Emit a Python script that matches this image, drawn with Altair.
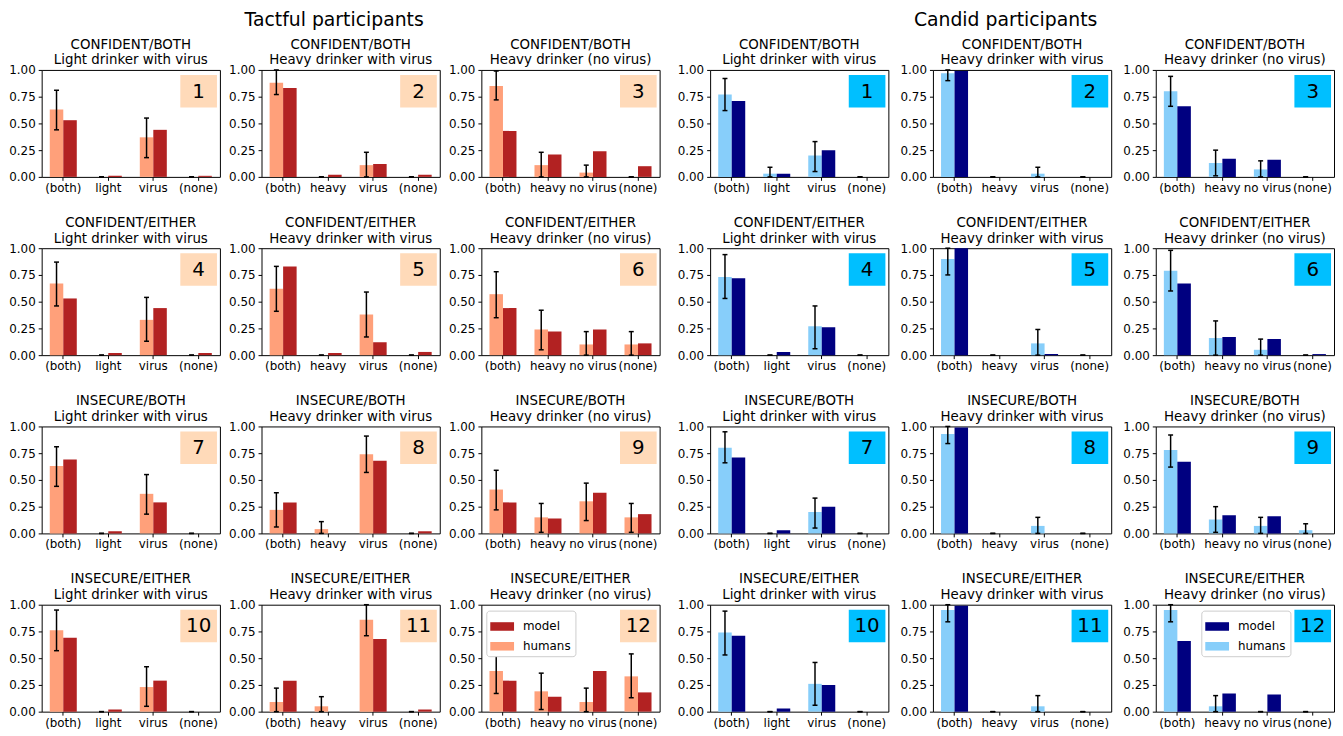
import altair as alt
import pandas as pd

FONT = "DejaVu Sans"

GROUP_TITLES = ["Tactful participants", "Candid participants"]
ROW_TITLES = ["CONFIDENT/BOTH", "CONFIDENT/EITHER", "INSECURE/BOTH", "INSECURE/EITHER"]
COL_TITLES = ["Light drinker with virus", "Heavy drinker with virus", "Heavy drinker (no virus)"]
COL_CATS = [
    ["(both)", "light", "virus", "(none)"],
    ["(both)", "heavy", "virus", "(none)"],
    ["(both)", "heavy", "no virus", "(none)"],
]
SERIES = ["humans", "model"]
Y_TICKS = [0, 0.25, 0.5, 0.75, 1]

# ---- Tactful participants (panels 1..12) ----
TACTFUL_HUMANS = [
    [0.63, 0.00, 0.37, 0.00], [0.88, 0.00, 0.11, 0.00], [0.85, 0.11, 0.04, 0.00],
    [0.67, 0.00, 0.33, 0.00], [0.62, 0.00, 0.38, 0.00], [0.57, 0.24, 0.10, 0.10],
    [0.63, 0.00, 0.37, 0.00], [0.22, 0.04, 0.74, 0.00], [0.41, 0.15, 0.30, 0.15],
    [0.76, 0.00, 0.23, 0.00], [0.09, 0.05, 0.86, 0.00], [0.38, 0.19, 0.09, 0.33],
]
TACTFUL_LO = [
    [0.44, 0.00, 0.18, 0.00], [0.77, 0.00, 0.00, 0.00], [0.72, 0.00, 0.00, 0.00],
    [0.46, 0.00, 0.13, 0.00], [0.41, 0.00, 0.17, 0.00], [0.35, 0.05, 0.00, 0.00],
    [0.44, 0.00, 0.18, 0.00], [0.06, 0.00, 0.57, 0.00], [0.22, 0.01, 0.12, 0.01],
    [0.57, 0.00, 0.05, 0.00], [0.00, 0.00, 0.71, 0.00], [0.17, 0.02, 0.00, 0.13],
]
TACTFUL_HI = [
    [0.81, 0.00, 0.55, 0.00], [1.00, 0.00, 0.23, 0.00], [0.99, 0.23, 0.11, 0.00],
    [0.87, 0.00, 0.54, 0.00], [0.83, 0.00, 0.59, 0.00], [0.78, 0.42, 0.22, 0.22],
    [0.81, 0.00, 0.55, 0.00], [0.38, 0.11, 0.91, 0.00], [0.59, 0.28, 0.47, 0.28],
    [0.95, 0.00, 0.42, 0.00], [0.22, 0.14, 1.00, 0.00], [0.59, 0.36, 0.22, 0.54],
]
TACTFUL_MODEL = [
    [0.53, 0.01, 0.44, 0.01], [0.83, 0.02, 0.12, 0.02], [0.43, 0.21, 0.24, 0.10],
    [0.53, 0.02, 0.44, 0.02], [0.83, 0.02, 0.12, 0.03], [0.44, 0.22, 0.24, 0.11],
    [0.69, 0.02, 0.29, 0.00], [0.29, 0.00, 0.68, 0.02], [0.29, 0.14, 0.38, 0.18],
    [0.69, 0.02, 0.29, 0.00], [0.29, 0.00, 0.68, 0.02], [0.29, 0.14, 0.38, 0.18],
]

# ---- Candid participants (panels 1..12) ----
CANDID_HUMANS = [
    [0.77, 0.03, 0.20, 0.00], [0.97, 0.00, 0.03, 0.00], [0.80, 0.13, 0.07, 0.00],
    [0.73, 0.00, 0.27, 0.00], [0.90, 0.00, 0.11, 0.00], [0.79, 0.16, 0.05, 0.00],
    [0.80, 0.00, 0.20, 0.00], [0.93, 0.00, 0.07, 0.00], [0.78, 0.13, 0.07, 0.03],
    [0.74, 0.00, 0.26, 0.00], [0.95, 0.00, 0.05, 0.00], [0.95, 0.05, 0.00, 0.00],
]
CANDID_LO = [
    [0.62, 0.00, 0.05, 0.00], [0.90, 0.00, 0.00, 0.00], [0.66, 0.01, 0.00, 0.00],
    [0.53, 0.00, 0.06, 0.00], [0.75, 0.00, 0.00, 0.00], [0.60, 0.00, 0.00, 0.00],
    [0.66, 0.00, 0.05, 0.00], [0.84, 0.00, 0.00, 0.00], [0.62, 0.01, 0.00, 0.00],
    [0.53, 0.00, 0.06, 0.00], [0.84, 0.00, 0.00, 0.00], [0.84, 0.00, 0.00, 0.00],
]
CANDID_HI = [
    [0.92, 0.09, 0.33, 0.00], [1.00, 0.00, 0.09, 0.00], [0.94, 0.25, 0.15, 0.00],
    [0.94, 0.00, 0.46, 0.00], [1.00, 0.00, 0.24, 0.00], [0.98, 0.32, 0.15, 0.00],
    [0.95, 0.00, 0.33, 0.00], [1.00, 0.00, 0.15, 0.00], [0.92, 0.25, 0.15, 0.09],
    [0.94, 0.00, 0.46, 0.00], [1.00, 0.00, 0.15, 0.00], [1.00, 0.15, 0.00, 0.00],
]
CANDID_MODEL = [
    [0.71, 0.03, 0.25, 0.00], [0.99, 0.00, 0.00, 0.00], [0.66, 0.17, 0.16, 0.00],
    [0.72, 0.03, 0.26, 0.00], [1.00, 0.00, 0.01, 0.00], [0.67, 0.17, 0.15, 0.01],
    [0.71, 0.03, 0.25, 0.00], [0.99, 0.00, 0.00, 0.00], [0.67, 0.17, 0.16, 0.00],
    [0.71, 0.03, 0.25, 0.00], [0.99, 0.00, 0.00, 0.00], [0.66, 0.17, 0.16, 0.00],
]

GROUPS = [
    dict(title=GROUP_TITLES[0], humans=TACTFUL_HUMANS, lo=TACTFUL_LO, hi=TACTFUL_HI,
         model=TACTFUL_MODEL, c_h="#FFA07A", c_m="#B22222", box="#FFDAB9",
         legend_x=5, spacing=7),
    dict(title=GROUP_TITLES[1], humans=CANDID_HUMANS, lo=CANDID_LO, hi=CANDID_HI,
         model=CANDID_MODEL, c_h="#87CEFA", c_m="#000080", box="#00BFFF",
         legend_x=46, spacing=10),
]

W, H = 180, 108


def panel(g, idx):
    num = idx + 1
    r, c = divmod(idx, 3)
    cats = COL_CATS[c]
    rows = []
    for cat, h, m in zip(cats, g["humans"][idx], g["model"][idx]):
        rows.append({"cat": cat, "series": "humans", "value": h})
        rows.append({"cat": cat, "series": "model", "value": m})
    bars_df = pd.DataFrame(rows)
    err_df = pd.DataFrame({"cat": cats, "series": ["humans"] * 4,
                           "lo": g["lo"][idx], "hi": g["hi"][idx]})
    num_df = pd.DataFrame({"num": [str(num)]})

    x = alt.X("cat:N", sort=cats,
              scale=alt.Scale(domain=cats, paddingInner=0.4, paddingOuter=0.18),
              axis=alt.Axis(title=None, labelAngle=0))
    xo = alt.XOffset("series:N", sort=SERIES,
                     scale=alt.Scale(domain=SERIES, paddingInner=0, paddingOuter=0))
    yscale = alt.Scale(domain=[0, 1])
    yaxis = alt.Axis(title=None, values=Y_TICKS, format=".2f", labelOverlap=False,
                     tickCount=5)

    if num == 12:
        legend = alt.Legend(title=None, orient="none", legendX=g["legend_x"], legendY=6,
                            symbolType="M-1,-0.36L1,-0.36L1,0.36L-1,0.36Z", symbolSize=576,
                            symbolStrokeWidth=0, symbolOpacity=1,
                            labelFont=FONT, labelFontSize=12, labelColor="black",
                            labelOffset=9, rowPadding=2, padding=4,
                            fillColor="white", strokeColor="#cccccc", cornerRadius=3)
    else:
        legend = None
    color = alt.Color("series:N",
                      scale=alt.Scale(domain=["model", "humans"], range=[g["c_m"], g["c_h"]]),
                      legend=legend)

    bars = alt.Chart(bars_df).mark_bar(opacity=1).encode(
        x=x, xOffset=xo, y=alt.Y("value:Q", scale=yscale, axis=yaxis), color=color)
    err = alt.Chart(err_df).mark_rule(color="black", strokeWidth=1.5).encode(
        x=x, xOffset=xo, y=alt.Y("lo:Q", scale=yscale, axis=yaxis), y2="hi:Q")
    cap_lo = alt.Chart(err_df).mark_tick(color="black", thickness=1.5, size=5, opacity=1).encode(
        x=x, xOffset=xo, y=alt.Y("lo:Q", scale=yscale, axis=yaxis))
    cap_hi = alt.Chart(err_df).mark_tick(color="black", thickness=1.5, size=5, opacity=1).encode(
        x=x, xOffset=xo, y=alt.Y("hi:Q", scale=yscale, axis=yaxis))
    box = alt.Chart(num_df).mark_rect(color=g["box"]).encode(
        x=alt.value(W - 40), x2=alt.value(W - 3), y=alt.value(5), y2=alt.value(38))
    txt = alt.Chart(num_df).mark_text(font=FONT, fontSize=20, color="black",
                                      align="center", baseline="middle").encode(
        x=alt.value(W - 21.5), y=alt.value(22), text="num:N")

    return alt.layer(bars, err, cap_lo, cap_hi, box, txt).properties(
        width=W, height=H,
        title=alt.TitleParams(text=[ROW_TITLES[r], COL_TITLES[c]], fontSize=13.5,
                              font=FONT, fontWeight="normal", color="black",
                              anchor="middle", offset=-3, lineHeight=16),
    ).resolve_scale(color="independent")


def group(g):
    rows = []
    for r in range(4):
        rows.append(
            alt.hconcat(*[panel(g, r * 3 + c) for c in range(3)], spacing=g["spacing"])
            .resolve_scale(x="independent", y="independent", color="independent")
            .resolve_legend(color="independent")
        )
    return alt.vconcat(*rows, spacing=22).properties(
        title=alt.TitleParams(text=g["title"], fontSize=19, font=FONT,
                              fontWeight="normal", color="black", anchor="middle", offset=7)
    ).resolve_scale(x="independent", y="independent", color="independent").resolve_legend(
        color="independent")


chart = alt.hconcat(group(GROUPS[0]), group(GROUPS[1]), spacing=16).resolve_scale(
    x="independent", y="independent", color="independent"
).resolve_legend(color="independent").properties(padding=0).configure_view(
    stroke="black", strokeWidth=1
).configure_axis(
    domain=False, grid=False, tickColor="black", tickSize=3.5, tickWidth=1,
    labelColor="black", labelFont=FONT, labelFontSize=12, labelPadding=2
).configure_axisY(labelPadding=3)

chart.save("out.html", embed_options={"renderer": "svg", "actions": False})
